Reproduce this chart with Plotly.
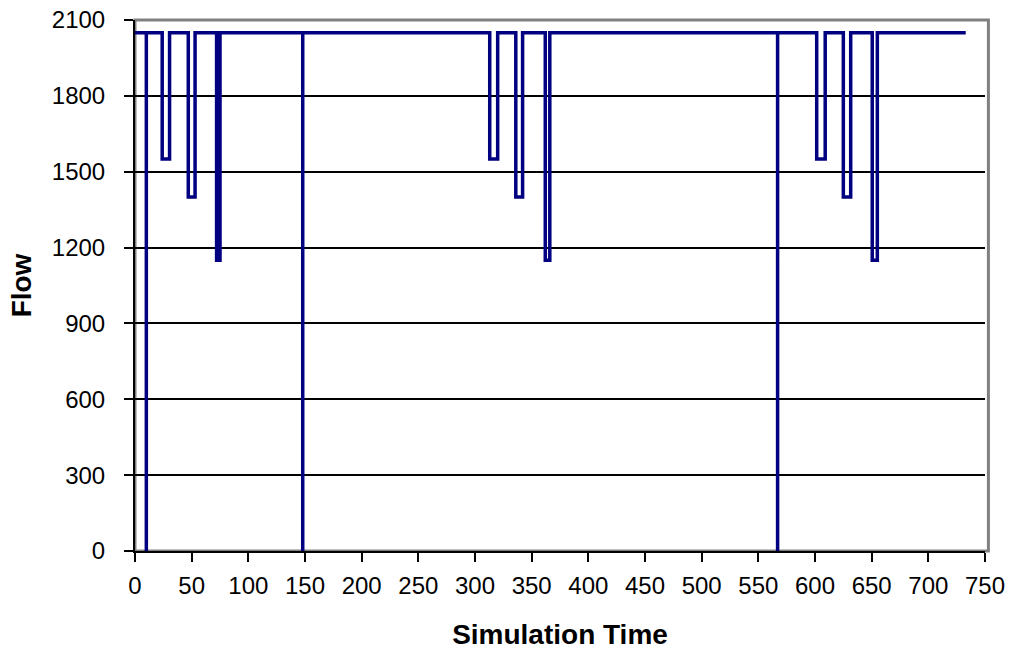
import plotly.graph_objects as go

# Flow held at the nominal level, with reduced-flow periods and instantaneous outages
base_flow = 2050
end_time = 733

dip_start = [24, 47, 72, 313, 336, 362, 601.5, 625, 650.5]
dip_end = [30.5, 53, 75, 320, 342, 366, 609, 631.5, 655]
dip_level = [1550, 1400, 1150, 1550, 1400, 1150, 1550, 1400, 1150]

outage_time = [10, 148, 567]
outage_level = [0, 0, 0]

y_ticks = [0, 300, 600, 900, 1200, 1500, 1800, 2100]
x_ticks = list(range(0, 751, 50))

# Build the stepped flow trace from the event lists
events = [(s, e, lv) for s, e, lv in zip(dip_start, dip_end, dip_level)]
events += [(t, t, lv) for t, lv in zip(outage_time, outage_level)]
events.sort()

xs, ys = [0], [base_flow]
for s, e, lv in events:
    xs += [s, s, e, e]
    ys += [base_flow, lv, lv, base_flow]
xs.append(end_time)
ys.append(base_flow)

fig = go.Figure()
fig.add_trace(go.Scatter(
    x=xs, y=ys, mode="lines",
    line=dict(color="#000080", width=3.5),
    hoverinfo="skip", showlegend=False,
))

font_family = "Liberation Sans, Arial, sans-serif"

fig.update_layout(
    width=1013, height=654,
    margin=dict(l=135, r=28, t=20, b=103, autoexpand=False),
    paper_bgcolor="white", plot_bgcolor="white",
    font=dict(family=font_family, size=24, color="black"),
    shapes=[dict(
        type="rect", xref="paper", yref="paper", x0=0, x1=1.004, y0=0, y1=1,
        line=dict(color="#808080", width=3), layer="below",
    )],
)

fig.update_xaxes(
    range=[0, 750], tickvals=x_ticks,
    showgrid=False, zeroline=False, automargin=False,
    showline=True, linecolor="black", linewidth=2,
    ticks="outside", ticklen=9, tickwidth=2, tickcolor="black",
    ticklabelstandoff=3,
    title=dict(text="<b>Simulation Time</b>", font=dict(size=28), standoff=27),
)
fig.update_yaxes(
    range=[0, 2100], tickvals=y_ticks,
    showgrid=True, gridcolor="black", gridwidth=1.5,
    zeroline=False, automargin=False,
    showline=True, linecolor="black", linewidth=2,
    ticks="outside", ticklen=9, tickwidth=2, tickcolor="black",
    ticklabelstandoff=14,
    title=dict(text="<b>Flow</b>", font=dict(size=28), standoff=12),
)

fig.write_html("out.html")
